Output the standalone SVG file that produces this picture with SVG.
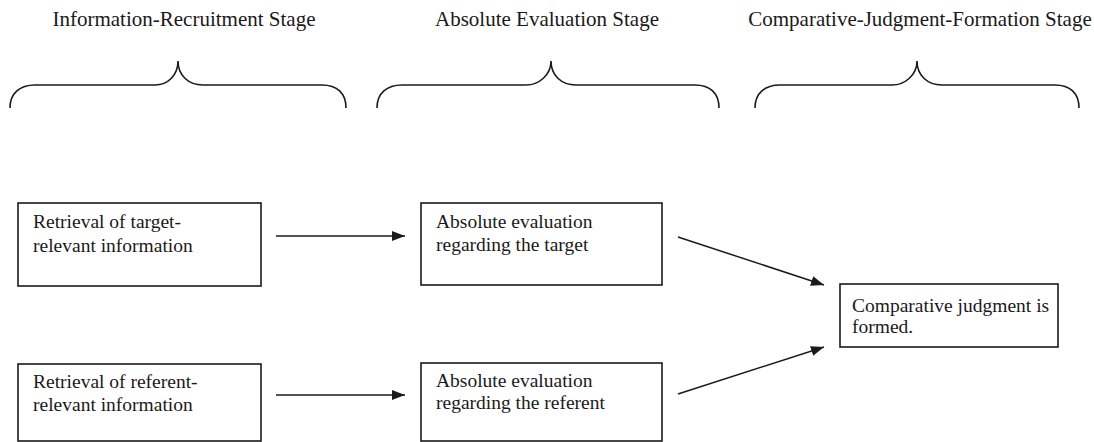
<svg xmlns="http://www.w3.org/2000/svg" width="1094" height="442" viewBox="0 0 1094 442">
<defs>
<style>
text{font-family:"Liberation Serif","Times New Roman",Tinos,"DejaVu Serif",serif;fill:#1a1a1a}
.title{font-size:21px;text-anchor:middle}
.lbl{font-size:19.5px}
.box{fill:#fff;stroke:#1a1a1a;stroke-width:1.6}
.brace{fill:none;stroke:#1a1a1a;stroke-width:1.6}
.conn{fill:none;stroke:#1a1a1a;stroke-width:1.5;marker-end:url(#ah)}
</style>
<marker id="ah" markerUnits="userSpaceOnUse" markerWidth="14" markerHeight="10" refX="13" refY="5" orient="auto">
<path d="M0,0 L13,5 L0,10 Z" fill="#1a1a1a"/>
</marker>
</defs>
<rect width="1094" height="442" fill="#fff"/>
<g id="stage-titles">
<text class="title" x="184" y="26">Information-Recruitment Stage</text>
<text class="title" x="547" y="26">Absolute Evaluation Stage</text>
<text class="title" x="920" y="26">Comparative-Judgment-Formation Stage</text>
</g>
<g id="braces">
<path class="brace" d="M10,108 C10,93 20,85 35,85 L155,85 C168,85 178,75 178,61 C178,75 188,85 203,85 L322,85 C337,85 346,93 346,108"/>
<path class="brace" d="M377,108 C377,93 387,85 402,85 L526,85 C539,85 551,75 551,61 C551,75 561,85 576,85 L695,85 C710,85 719,93 719,108"/>
<path class="brace" d="M755,108 C755,93 765,85 780,85 L892,85 C905,85 917,75 917,61 C917,75 927,85 942,85 L1055,85 C1070,85 1079,93 1079,108"/>
</g>
<g id="connectors">
<line class="conn" x1="276" y1="236" x2="405" y2="236"/>
<line class="conn" x1="276" y1="395" x2="405" y2="395"/>
<line class="conn" x1="678" y1="237" x2="824" y2="285"/>
<line class="conn" x1="678" y1="394" x2="824" y2="347"/>
</g>
<g id="target-retrieval">
<rect class="box" x="18" y="203" width="243" height="83"/>
<text class="lbl" x="33" y="228">Retrieval of target-</text>
<text class="lbl" x="33" y="252">relevant information</text>
</g>
<g id="referent-retrieval">
<rect class="box" x="18" y="364" width="243" height="77"/>
<text class="lbl" x="33" y="388">Retrieval of referent-</text>
<text class="lbl" x="33" y="411">relevant information</text>
</g>
<g id="target-evaluation">
<rect class="box" x="421" y="203" width="241" height="82"/>
<text class="lbl" x="436" y="228">Absolute evaluation</text>
<text class="lbl" x="436" y="251">regarding the target</text>
</g>
<g id="referent-evaluation">
<rect class="box" x="421" y="363" width="241" height="78"/>
<text class="lbl" x="436" y="387">Absolute evaluation</text>
<text class="lbl" x="436" y="409">regarding the referent</text>
</g>
<g id="comparative-judgment">
<rect class="box" x="840" y="284" width="218" height="63"/>
<text class="lbl" x="852" y="312">Comparative judgment is</text>
<text class="lbl" x="852" y="333">formed.</text>
</g>
</svg>
